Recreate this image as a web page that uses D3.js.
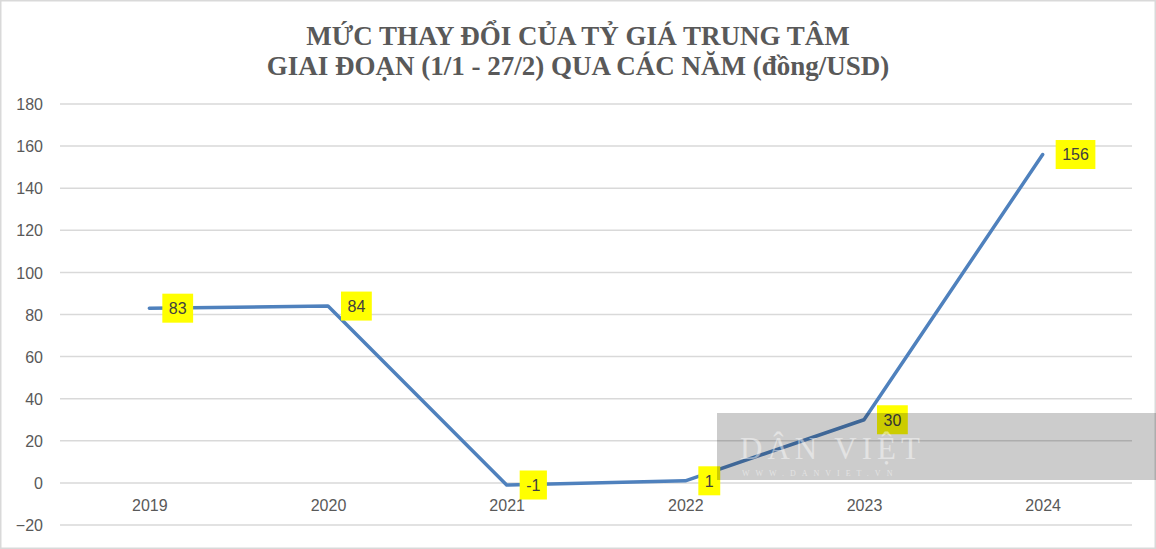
<!DOCTYPE html>
<html><head><meta charset="utf-8">
<script src="https://cdn.jsdelivr.net/npm/d3@7"></script>
<style>body{margin:0;background:#fff}svg{display:block}</style>
</head><body>
<svg id="chart" width="1156" height="549"></svg>
<script>
const categories = ["2019","2020","2021","2022","2023","2024"];
const values = [83, 84, -1, 1, 30, 156];
const yTicks = [-20, 0, 20, 40, 60, 80, 100, 120, 140, 160, 180];
const titleLines = ["MỨC THAY ĐỔI CỦA TỶ GIÁ TRUNG TÂM", "GIAI ĐOẠN (1/1 - 27/2) QUA CÁC NĂM (đồng/USD)"];

(function(){
const W = 1156, H = 549;
const svg = d3.select("#chart");
const pLeft = 60, pRight = 1132, pTop = 104, pBottom = 525;

svg.append("rect").attr("x",0.75).attr("y",0.75).attr("width",W-1.5).attr("height",H-1.5)
  .attr("fill","#fff").attr("stroke","#d9d9d9").attr("stroke-width",1.5);

const x = d3.scalePoint().domain(categories).range([pLeft, pRight]).padding(0.5);
const y = d3.scaleLinear().domain([-20, 180]).range([pBottom, pTop]);

// title
svg.append("g").selectAll("text").data(titleLines).join("text")
  .attr("x", 578).attr("y", (d,i)=>45 + i*30)
  .attr("text-anchor","middle")
  .attr("font-family","'Liberation Serif','Times New Roman',serif")
  .attr("font-weight","bold").attr("font-size",27).attr("fill","#595959")
  .text(d=>d);

// gridlines
svg.append("g").selectAll("line").data(yTicks).join("line")
  .attr("x1", pLeft).attr("x2", pRight)
  .attr("y1", d=>y(d)).attr("y2", d=>y(d))
  .attr("stroke","#d9d9d9").attr("stroke-width",1.5);

// y axis labels
const yAxis = d3.axisLeft(y).tickValues(yTicks).tickSize(0).tickPadding(0);
const gy = svg.append("g").attr("transform",`translate(43,0)`).call(yAxis);
gy.select(".domain").remove();
gy.selectAll("text").attr("font-family","'Liberation Sans',Arial,sans-serif")
  .attr("font-size",16).attr("fill","#595959").attr("dy","0.35em");

// x axis labels
const xAxis = d3.axisBottom(x).tickSize(0).tickPadding(0);
const gx = svg.append("g").attr("transform",`translate(0,${y(0)+17})`).call(xAxis);
gx.select(".domain").remove();
gx.selectAll("text").attr("font-family","'Liberation Sans',Arial,sans-serif")
  .attr("font-size",16).attr("fill","#595959");

// line
const line = d3.line().x((d,i)=>x(categories[i])).y(d=>y(d));
svg.append("path").datum(values).attr("d", line)
  .attr("fill","none").attr("stroke","#4f81bd").attr("stroke-width",3.5)
  .attr("stroke-linecap","round").attr("stroke-linejoin","round");

// data labels
const lbl = svg.append("g").selectAll("g").data(values).join("g")
  .attr("transform",(d,i)=>`translate(${x(categories[i])+13},${y(d)})`);
lbl.each(function(d){
  const g = d3.select(this);
  const t = g.append("text").attr("x",6.5).attr("y",0).attr("dy","0.36em")
    .attr("font-family","'Liberation Sans',Arial,sans-serif").attr("font-size",16)
    .attr("fill","#404040").text(d);
  const w = t.node().getComputedTextLength();
  g.insert("rect","text").attr("x",0).attr("y",-14.5).attr("width",w+13).attr("height",29).attr("fill","#ffff00");
});

// watermark
const wm = svg.append("g");
wm.append("rect").attr("x",717).attr("y",413).attr("width",W-717).attr("height",67)
  .attr("fill","#000").attr("opacity",0.2);
wm.append("text").attr("x",740).attr("y",459)
  .attr("font-family","'Liberation Serif',serif").attr("font-size",31)
  .attr("fill","#fff").attr("opacity",0.45).attr("letter-spacing",5).text("DÂN VIỆT");
wm.append("text").attr("x",742).attr("y",476)
  .attr("font-family","'Liberation Serif',serif").attr("font-size",8)
  .attr("fill","#fff").attr("opacity",0.45).attr("letter-spacing",6).text("WWW.DANVIET.VN");
})();
</script>
</body></html>
